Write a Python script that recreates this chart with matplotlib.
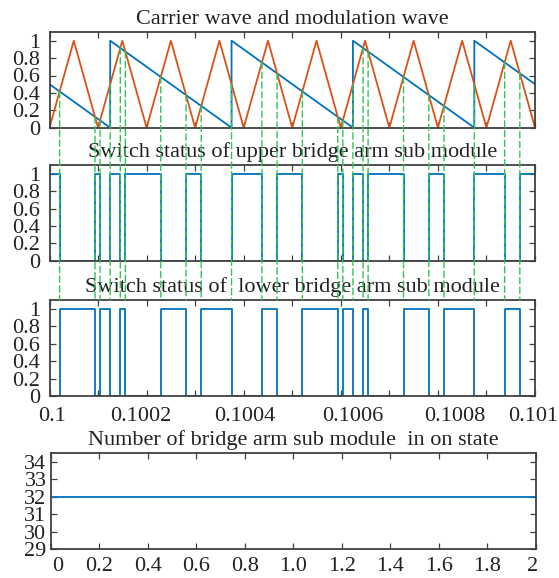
import matplotlib
matplotlib.use("Agg")
import matplotlib.pyplot as plt
from matplotlib.patches import ConnectionPatch
from matplotlib.transforms import ScaledTranslation

# carrier (triangle) vertices
carrier_t = [0.1, 0.10005, 0.1001, 0.10015, 0.1002, 0.10025, 0.1003, 0.10035,
             0.1004, 0.10045, 0.1005, 0.10055, 0.1006, 0.10065, 0.1007,
             0.10075, 0.1008, 0.10085, 0.1009, 0.10095, 0.101]
carrier_v = [0, 1, 0, 1, 0, 1, 0, 1, 0, 1, 0, 1, 0, 1, 0, 1, 0, 1, 0, 1, 0]

# modulation (sawtooth) vertices
mod_t = [0.1, 0.100125, 0.100125, 0.100375, 0.100375, 0.100625, 0.100625,
         0.100875, 0.100875, 0.101]
mod_v = [0.5, 0, 1, 0, 1, 0, 1, 0, 1, 0.5]

# crossing instants of carrier and modulation wave
cross_t = [0.10002083, 0.10009375, 0.10010417, 0.100125, 0.10014583, 0.10015625,
           0.10022917, 0.10028125, 0.1003125, 0.100375, 0.1004375, 0.10046875,
           0.10052083, 0.10059375, 0.10060417, 0.100625, 0.10064583, 0.10065625,
           0.10072917, 0.10078125, 0.1008125, 0.100875, 0.1009375, 0.10096875]
cross_v = [0.4167, 0.125, 0.0833, 0.5, 0.9167, 0.875, 0.5833, 0.375, 0.25, 0.5,
           0.75, 0.625, 0.4167, 0.125, 0.0833, 0.5, 0.9167, 0.875, 0.5833, 0.375,
           0.25, 0.5, 0.75, 0.625]

# switch states (level after each edge, first value from t=0.1)
upper_state = [1, 0, 1, 0, 1, 0, 1, 0, 1, 0, 1, 0, 1, 0, 1, 0, 1, 0, 1, 0, 1, 0, 1, 0, 1]
lower_state = [0, 1, 0, 1, 0, 1, 0, 1, 0, 1, 0, 1, 0, 1, 0, 1, 0, 1, 0, 1, 0, 1, 0, 1, 0]

# number of sub modules on
n_t = [0, 2]
n_on = [32, 32]

xticks_sw = [0.1, 0.1001, 0.1002, 0.1003, 0.1004, 0.1005, 0.1006, 0.1007, 0.1008, 0.1009, 0.101]
xlabels_sw = ['0.1', '', '0.1002', '', '0.1004', '', '0.1006', '', '0.1008', '', '0.101']
yticks_sw = [0, 0.2, 0.4, 0.6, 0.8, 1]
ylabels_sw = ['0', '0.2', '0.4', '0.6', '0.8', '1']
xticks_n = [0, 0.2, 0.4, 0.6, 0.8, 1.0, 1.2, 1.4, 1.6, 1.8, 2]
xlabels_n = ['0', '0.2', '0.4', '0.6', '0.8', '1.0', '1.2', '1.4', '1.6', '1.8', '2']
yticks_n = [29, 30, 31, 32, 33, 34]

titles = ['Carrier wave and modulation wave',
          'Switch status of upper bridge arm sub module',
          'Switch status of  lower bridge arm sub module',
          'Number of bridge arm sub module  in on state']

BLUE = '#0072BD'
ORANGE = '#D95319'
GREEN = '#33C457'
FRAME = '#404040'
TEXT = '#222222'

plt.rcParams['font.family'] = 'Liberation Serif'
FS = 16

fig = plt.figure(figsize=(5.59, 5.78), dpi=100)
W, H = 559, 578


def make_ax(left, top, right, bottom):
    return fig.add_axes([left / W, 1 - bottom / H, (right - left) / W, (bottom - top) / H])


ax1 = make_ax(49.5, 32, 535, 127.7)
ax2 = make_ax(49.5, 165, 535, 260.7)
ax3 = make_ax(49.5, 300, 535, 396)
ax4 = make_ax(50.7, 453, 535.7, 549)

ax1.plot(mod_t, mod_v, color=BLUE, lw=1.3)
ax1.plot(carrier_t, carrier_v, color=ORANGE, lw=1.3)

edges = [0.1] + cross_t + [0.101]
ax2.step(edges, upper_state + [upper_state[-1]], where='post', color=BLUE, lw=1.3)
ax3.step(edges, lower_state + [lower_state[-1]], where='post', color=BLUE, lw=1.3)
ax4.plot(n_t, n_on, color=BLUE, lw=1.3)

for ax in (ax1, ax2, ax3):
    ax.set_xlim(0.1, 0.101)
    ax.set_ylim(0, 1.1)
    ax.set_yticks(yticks_sw)
    ax.set_yticklabels(ylabels_sw)
    ax.set_xticks(xticks_sw)
    ax.set_xticklabels(xlabels_sw if ax is ax3 else [''] * len(xticks_sw))

ax4.set_xlim(0, 2)
ax4.set_ylim(29, 34.5)
ax4.set_xticks(xticks_n)
ax4.set_xticklabels(xlabels_n)
ax4.set_yticks(yticks_n)

for ax, title in zip((ax1, ax2, ax3, ax4), titles):
    ax.set_title(title, fontsize=FS, color=TEXT, pad=6)
    ax.tick_params(direction='in', top=True, right=True, length=4, width=0.9,
                   color=FRAME, labelsize=FS, labelcolor=TEXT)
    ax.tick_params(axis='y', pad=7)
    ax.tick_params(axis='x', pad=8)
    for sp in ax.spines.values():
        sp.set_color(FRAME)
        sp.set_linewidth(1.3)
ax4.tick_params(axis='y', pad=3)
ax4.tick_params(axis='x', pad=5.5)

# small horizontal shifts of the x labels, as placed in the original
shift3 = [3, 0, -6, 0, 1, 0, 12, 0, 17, 0, -2]
for lbl, dx in zip(ax3.get_xticklabels(), shift3):
    lbl.set_transform(lbl.get_transform() + ScaledTranslation(dx / 100, 0, fig.dpi_scale_trans))
shift4 = [7, 0, 0, 0, 0, 0, 0, 0, 0, 0, -3]
for lbl, dx in zip(ax4.get_xticklabels(), shift4):
    lbl.set_transform(lbl.get_transform() + ScaledTranslation(dx / 100, 0, fig.dpi_scale_trans))

# dashed lines from each crossing down to the lower switch plot
for t, v in zip(cross_t, cross_v):
    con = ConnectionPatch(xyA=(t, v), coordsA=ax1.transData,
                          xyB=(t, 1.1), coordsB=ax3.transData,
                          color=GREEN, lw=1.0, linestyle=(0, (4.5, 2.5)), zorder=5)
    fig.add_artist(con)

fig.savefig('out.png', dpi=100)
